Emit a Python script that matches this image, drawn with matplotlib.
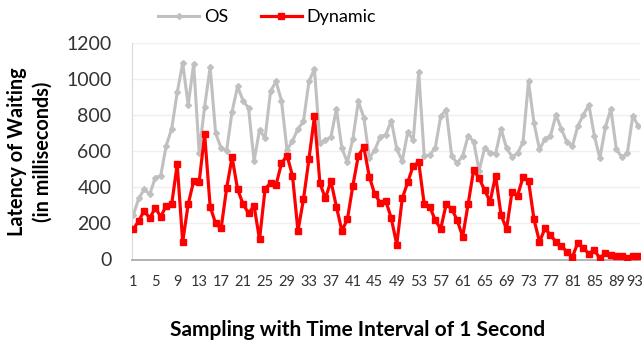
import matplotlib
matplotlib.use("Agg")
import matplotlib.pyplot as plt
from matplotlib.transforms import ScaledTranslation

plt.rcParams['font.family'] = ['Lato', 'DejaVu Sans']

samples = list(range(1, 94))
os_latency = [246, 339, 389, 361, 454, 465, 631, 726, 926, 1089,
              857, 1085, 593, 848, 1065, 700, 617, 604, 820, 959,
              880, 839, 546, 719, 672, 932, 987, 880, 607, 657,
              724, 765, 987, 1056, 644, 663, 678, 835, 617, 539,
              669, 876, 787, 561, 607, 681, 691, 770, 613, 546,
              706, 663, 1037, 574, 580, 617, 793, 830, 576, 533,
              574, 685, 654, 493, 617, 593, 585, 724, 617, 570,
              589, 650, 987, 756, 611, 667, 685, 802, 722, 650,
              630, 741, 802, 857, 685, 561, 733, 835, 611, 567,
              589, 796, 741]
dynamic_latency = [167, 215, 270, 228, 287, 237, 298, 307, 528, 98,
                   307, 435, 430, 694, 293, 200, 172, 394, 567, 389,
                   307, 256, 298, 111, 389, 426, 413, 533, 576, 465,
                   159, 333, 556, 793, 422, 339, 435, 293, 159, 222,
                   409, 576, 622, 459, 361, 315, 326, 228, 83, 339,
                   428, 520, 539, 306, 293, 219, 169, 307, 280, 219,
                   126, 307, 496, 450, 385, 320, 465, 246, 169, 376,
                   354, 456, 437, 222, 98, 172, 135, 98, 74, 43,
                   15, 94, 61, 33, 52, 6, 37, 24, 20, 19,
                   6, 19, 22]
x_ticks = list(range(1, 94, 4))
y_ticks = [0, 200, 400, 600, 800, 1000, 1200]

fig = plt.figure(figsize=(6.44, 3.47), dpi=100)
ax = fig.add_axes([132.3 / 644, 1 - 259.5 / 347, (640 - 132.3) / 644, (259.5 - 43) / 347])

ax.plot(samples, os_latency, color="#c0c0c0", lw=2.2, marker="D", ms=3,
        label="OS", zorder=2)
ax.plot(samples, dynamic_latency, color="#ff0000", lw=2.3, marker="s", ms=5,
        label="Dynamic", zorder=3)

ax.set_xlim(0.82, 93.31)
ax.set_ylim(0, 1200)
ax.set_xticks(x_ticks)
ax.set_yticks(y_ticks)
ax.grid(axis="y", color="#efefef", lw=1)
ax.set_axisbelow(True)
for side in ["top", "right"]:
    ax.spines[side].set_visible(False)
ax.spines["left"].set_color("#d9d9d9")
ax.spines["bottom"].set_color("#a6a6a6")
ax.spines["bottom"].set_linewidth(1.2)
ax.tick_params(axis="y", length=0, pad=15, labelsize=14, labelcolor="#333333")
ax.tick_params(axis="x", length=0, pad=11, labelsize=10.5, labelcolor="#333333")

# last label sits a bit left so it stays inside the picture
last = ax.get_xticklabels()[-1]
last.set_transform(last.get_transform() + ScaledTranslation(-4 / 100, 0, fig.dpi_scale_trans))

fig.text(30 / 644, 1 - 152 / 347, "Latency of Waiting\n(in milliseconds)",
         rotation=90, ha="center", va="center", fontsize=14.3, fontweight="bold",
         linespacing=1.35)
fig.text(358 / 644, 1 - 330 / 347, "Sampling with Time Interval of 1 Second",
         ha="center", va="center", fontsize=15, fontweight="bold")

fig.legend(*ax.get_legend_handles_labels(), loc="center",
           bbox_to_anchor=(267 / 644, 1 - 17 / 347), ncol=2, frameon=False,
           fontsize=13, handlelength=2.3, columnspacing=1.8, handletextpad=0.25)

fig.savefig("out.png", dpi=100)
